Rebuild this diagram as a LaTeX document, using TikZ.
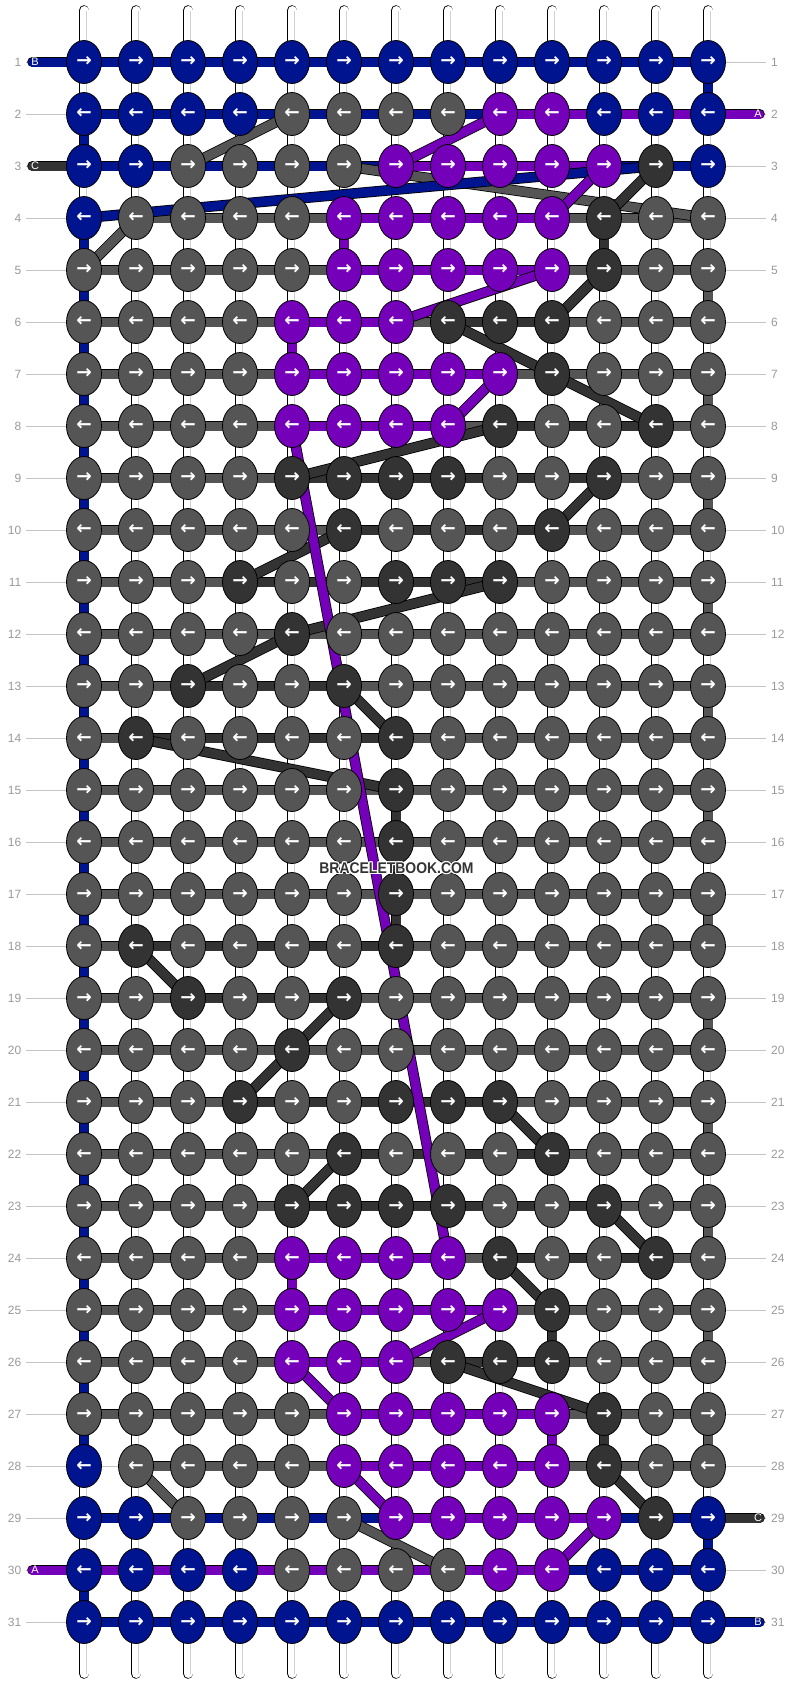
\documentclass[tikz,border=0pt]{standalone}
\usepackage{fontspec}
\setmainfont{Liberation Sans}
\newfontfamily\arrowfont{DejaVu Sans}
\usetikzlibrary{shapes.geometric}
\definecolor{knB}{HTML}{00148F}
\definecolor{knP}{HTML}{7500BA}
\definecolor{knG}{HTML}{555555}
\definecolor{knD}{HTML}{333333}
\definecolor{labgray}{HTML}{9A9A9A}
\definecolor{guidegray}{HTML}{C4C4C4}
\pgfdeclarelayer{warp}
\pgfdeclarelayer{bars}
\pgfdeclarelayer{diag}
\pgfsetlayers{warp,bars,diag,main}

% white rim round a text
\newcommand{\wmhalo}[1]{\leavevmode
  \foreach \hx/\hy in {-1.2/0,1.2/0,0/-1.2,0/1.2,-0.9/-0.9,0.9/0.9,-0.9/0.9,0.9/-0.9}
    {\rlap{\hspace{\hx pt}\raisebox{\hy pt}{\color{white}#1}}}#1}

% knot colours, one row per line
\newcommand{\knotrows}{%
{B,B,B,B,B,B,B,B,B,B,B,B,B},{B,B,B,B,G,G,G,G,P,P,B,B,B},%
{B,B,G,G,G,G,P,P,P,P,P,D,B},{B,G,G,G,G,P,P,P,P,P,D,G,G},%
{G,G,G,G,G,P,P,P,P,P,D,G,G},{G,G,G,G,P,P,P,D,D,D,G,G,G},%
{G,G,G,G,P,P,P,P,P,D,G,G,G},{G,G,G,G,P,P,P,P,D,G,G,D,G},%
{G,G,G,G,D,D,D,D,G,G,D,G,G},{G,G,G,G,G,D,G,G,G,D,G,G,G},%
{G,G,G,D,G,G,D,D,D,G,G,G,G},{G,G,G,G,D,G,G,G,G,G,G,G,G},%
{G,G,D,G,G,D,G,G,G,G,G,G,G},{G,D,G,G,G,G,D,G,G,G,G,G,G},%
{G,G,G,G,G,G,D,G,G,G,G,G,G},{G,G,G,G,G,G,D,G,G,G,G,G,G},%
{G,G,G,G,G,G,D,G,G,G,G,G,G},{G,D,G,G,G,G,D,G,G,G,G,G,G},%
{G,G,D,G,G,D,G,G,G,G,G,G,G},{G,G,G,G,D,G,G,G,G,G,G,G,G},%
{G,G,G,D,G,G,D,D,D,G,G,G,G},{G,G,G,G,G,D,G,G,G,D,G,G,G},%
{G,G,G,G,D,D,D,D,G,G,D,G,G},{G,G,G,G,P,P,P,P,D,G,G,D,G},%
{G,G,G,G,P,P,P,P,P,D,G,G,G},{G,G,G,G,P,P,P,D,D,D,G,G,G},%
{G,G,G,G,G,P,P,P,P,P,D,G,G},{B,G,G,G,G,P,P,P,P,P,D,G,G},%
{B,B,G,G,G,G,P,P,P,P,P,D,B},{B,B,B,B,G,G,G,G,P,P,B,B,B},%
{B,B,B,B,B,B,B,B,B,B,B,B,B}}

% thread between neighbouring knots (N = none)
\newcommand{\barrows}{%
{B,B,B,B,B,B,B,B,B,B,B,B},{B,B,B,B,B,B,B,B,P,P,P,P},%
{B,B,B,B,B,B,P,P,P,P,B,B},{N,G,G,G,G,P,P,P,P,G,G,G},%
{G,G,G,G,G,P,P,P,P,G,G,G},{G,G,G,G,P,P,G,D,D,G,G,G},%
{G,G,G,G,P,P,P,P,G,G,G,G},{G,G,G,G,P,P,P,G,D,D,D,G},%
{G,G,G,G,D,D,D,D,D,D,G,G},{G,G,G,G,G,D,D,D,D,G,G,G},%
{G,G,G,D,D,D,D,D,G,G,G,G},{G,G,G,G,G,G,G,G,G,G,G,G},%
{G,G,D,D,D,G,G,G,G,G,G,G},{G,D,D,D,D,D,G,G,G,G,G,G},%
{G,G,G,G,G,G,G,G,G,G,G,G},{G,G,G,G,G,G,G,G,G,G,G,G},%
{G,G,G,G,G,G,G,G,G,G,G,G},{G,D,D,D,D,D,G,G,G,G,G,G},%
{G,G,D,D,D,G,G,G,G,G,G,G},{G,G,G,G,G,G,G,G,G,G,G,G},%
{G,G,G,D,D,D,D,D,G,G,G,G},{G,G,G,G,G,D,D,D,D,G,G,G},%
{G,G,G,G,D,D,D,D,D,D,G,G},{G,G,G,G,P,P,P,G,D,D,D,G},%
{G,G,G,G,P,P,P,P,G,G,G,G},{G,G,G,G,P,P,G,D,D,G,G,G},%
{G,G,G,G,G,P,P,P,P,G,G,G},{N,G,G,G,G,P,P,P,P,G,G,G},%
{B,B,B,B,B,B,P,P,P,P,B,B},{P,P,P,P,P,P,P,P,P,B,B,B},%
{B,B,B,B,B,B,B,B,B,B,B,B}}

\begin{document}
\begin{tikzpicture}[
    x=1pt, y=-1pt,
    knot/.style={ellipse, draw=black, line width=0.8pt, minimum width=35pt,
                 minimum height=43pt, inner sep=0pt, text=white,
                 font=\arrowfont\bfseries\fontsize{18.5}{18.5}\selectfont},
    thread/.style={draw=black, line width=0.8pt, double=#1, double distance=9pt},
    warpstr/.style={draw=black, line width=0.8pt, double=white, double distance=9pt, line cap=round},
    warpmid/.style={draw=black!18, line width=0.8pt},
    guide/.style={draw=guidegray, line width=0.8pt},
    rowlab/.style={font=\fontsize{12}{12}\selectfont, text=labgray, inner sep=0pt},
    captext/.style={font=\fontsize{11}{11}\selectfont, text=white, inner sep=0pt}]
  \path[use as bounding box] (0,0) rectangle (792,1684);

  % knots
  \foreach \krow [count=\ri] in \knotrows {
    \foreach \kc [count=\ci] in \krow {
      \node[knot, fill=kn\kc] (k-\ri-\ci) at ({84+52*(\ci-1)},{62+52*(\ri-1)})
        {\ifodd\ri\relax→\else←\fi};
    }
    \node[rowlab, anchor=east] (lab-l-\ri) at (21.5,{62+52*(\ri-1)}) {\ri};
    \node[rowlab, anchor=west] (lab-r-\ri) at (771,{62+52*(\ri-1)}) {\ri};
  }

  % warp strings and row guides
  \begin{pgfonlayer}{warp}
    \fill[white] (0,0) rectangle (792,1684);
    \foreach \ri in {1,...,31}
      \draw[guide] ([xshift=4.5pt]lab-l-\ri.east) -- ([xshift=-5pt]lab-r-\ri.west);
    \foreach \ci in {1,...,13} {
      \coordinate (wt-\ci) at ({84+52*(\ci-1)},10.5);
      \coordinate (wb-\ci) at ({84+52*(\ci-1)},1673.5);
      \draw[warpstr] (wt-\ci) -- (wb-\ci);
      \draw[warpmid] ([xshift=2.5pt]wt-\ci) -- ([xshift=2.5pt]wb-\ci);
    }
  \end{pgfonlayer}

  % threads along the rows, turns and loose ends
  \begin{pgfonlayer}{bars}
    \foreach \brow [count=\ri] in \barrows {
      \foreach \bc [count=\ci] in \brow {
        \if\bc N\else
          \pgfmathtruncatemacro{\cn}{\ci+1}
          \draw[thread=kn\bc] (k-\ri-\ci.center) -- (k-\ri-\cn.center);
        \fi
      }
    }
    \foreach \ri/\ci/\co in {1/13/B,2/1/B,29/13/B,30/1/B,4/6/P,6/5/P,24/5/P,27/10/P,
        4/11/D,15/7/D,16/7/D,17/7/D,25/10/D,27/11/D} {
      \pgfmathtruncatemacro{\rn}{\ri+1}
      \draw[thread=kn\co] (k-\ri-\ci.center) -- (k-\rn-\ci.center);
    }
    \foreach \ri in {4,...,27} {
      \pgfmathtruncatemacro{\rn}{\ri+1}
      \draw[thread=knB] (k-\ri-1.center) -- (k-\rn-1.center);
    }
    \foreach \ri in {5,7,...,27} {
      \pgfmathtruncatemacro{\rn}{\ri+1}
      \draw[thread=knG] (k-\ri-13.center) -- (k-\rn-13.center);
    }
    \foreach \ri/\co in {1/B,3/D,30/P} {
      \coordinate (capl-\ri) at (32.5,{62+52*(\ri-1)});
      \draw[thread=kn\co, line cap=round] (capl-\ri) -- (k-\ri-1.center);
    }
    \foreach \ri/\co in {2/P,29/D,31/B} {
      \coordinate (capr-\ri) at (759.5,{62+52*(\ri-1)});
      \draw[thread=kn\co, line cap=round] (capr-\ri) -- (k-\ri-13.center);
    }
  \end{pgfonlayer}
  \foreach \ri/\txt in {1/B,3/C,30/A}
    \node[captext] (capl-t-\ri) at (35,{62+52*(\ri-1)}) {\txt};
  \foreach \ri/\txt in {2/A,29/C,31/B}
    \node[captext] (capr-t-\ri) at (758,{62+52*(\ri-1)}) {\txt};

  % threads carried from row to row
  \begin{pgfonlayer}{diag}
    \foreach \ra/\ca/\rb/\cb/\co in {3/3/2/5/G,3/6/4/13/G,4/2/5/1/G,28/2/29/3/G,29/6/30/8/G,
        4/1/3/12/B,
        3/12/4/11/D,6/10/5/11/D,6/8/7/10/D,7/10/8/12/D,8/9/9/5/D,9/11/10/10/D,
        10/6/11/4/D,11/9/12/5/D,12/5/13/3/D,13/6/14/7/D,14/2/15/7/D,18/2/19/3/D,
        19/6/20/5/D,20/5/21/4/D,21/9/22/10/D,22/6/23/5/D,23/11/24/12/D,
        24/9/25/10/D,26/8/27/11/D,28/11/29/12/D,
        2/9/3/7/P,3/11/4/10/P,5/10/6/7/P,7/9/8/8/P,8/5/24/8/P,25/9/26/7/P,
        26/5/27/6/P,28/6/29/7/P,29/11/30/10/P}
      \draw[thread=kn\co] (k-\ra-\ca.center) -- (k-\rb-\cb.center);
  \end{pgfonlayer}

  \node[font=\bfseries\fontsize{15.5}{15.5}\selectfont, text=knD, xscale=0.9, inner sep=0pt]
    (wmark) at (396.5,868) {\wmhalo{BRACELETBOOK.COM}};
\end{tikzpicture}
\end{document}
